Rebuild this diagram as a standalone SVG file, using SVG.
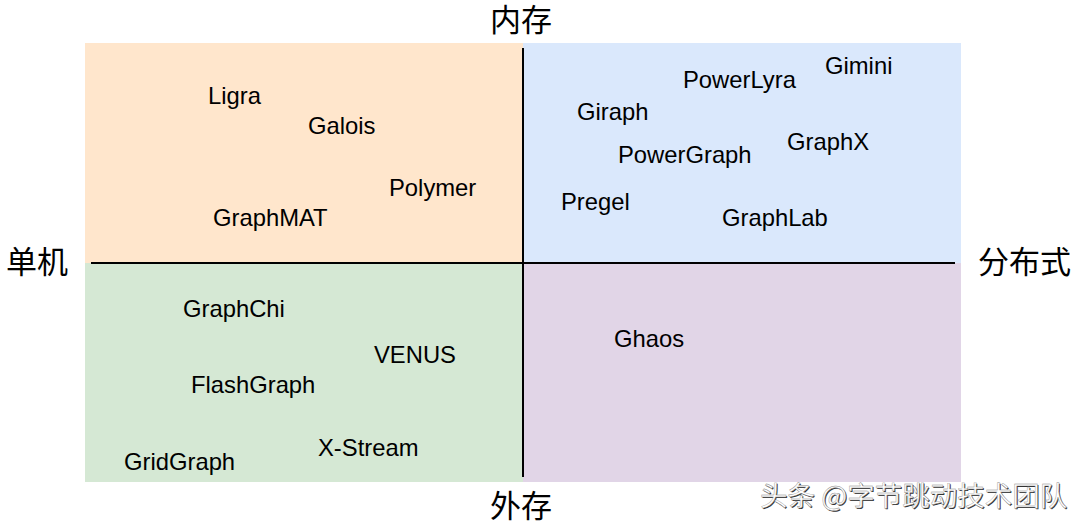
<svg xmlns="http://www.w3.org/2000/svg" width="1084" height="528" viewBox="0 0 1084 528">
<style>
.lbl{font-family:"Liberation Sans",Arial,Helvetica,sans-serif;font-size:23.8px;fill:#000}
.cjk{font-family:"Noto Sans CJK SC","Noto Sans CJK TC",sans-serif;font-size:31px;fill:#000}
.wm{font-family:"Noto Sans CJK SC",sans-serif;font-size:27.5px}
.axis{stroke:#000;stroke-width:2;fill:none}
</style>
<rect width="1084" height="528" fill="#fff"/>
<g id="q-single-memory"><rect x="85" y="43" width="438" height="220" fill="#FFE6CC"/></g>
<g id="q-dist-memory"><rect x="523" y="43" width="438" height="220" fill="#DAE8FC"/></g>
<g id="q-single-disk"><rect x="85" y="263" width="438" height="219" fill="#D5E8D4"/></g>
<g id="q-dist-disk"><rect x="523" y="263" width="438" height="219" fill="#E1D5E7"/></g>
<g id="connectors">
<line class="axis" x1="523" y1="48" x2="523" y2="477"/>
<line class="axis" x1="91" y1="263" x2="955" y2="263"/>
</g>
<g id="axis-labels">
<text class="cjk" x="490" y="31">内存</text>
<text class="cjk" x="490" y="517">外存</text>
<text class="cjk" x="6" y="273">单机</text>
<text class="cjk" x="978" y="273">分布式</text>
</g>
<g id="n-ligra"><text class="lbl" x="208" y="104">Ligra</text></g>
<g id="n-galois"><text class="lbl" x="308" y="134">Galois</text></g>
<g id="n-polymer"><text class="lbl" x="389" y="196">Polymer</text></g>
<g id="n-graphmat"><text class="lbl" x="213" y="226">GraphMAT</text></g>
<g id="n-gimini"><text class="lbl" x="825" y="74">Gimini</text></g>
<g id="n-powerlyra"><text class="lbl" x="683" y="88">PowerLyra</text></g>
<g id="n-giraph"><text class="lbl" x="577" y="120">Giraph</text></g>
<g id="n-graphx"><text class="lbl" x="787" y="150">GraphX</text></g>
<g id="n-powergraph"><text class="lbl" x="618" y="163">PowerGraph</text></g>
<g id="n-pregel"><text class="lbl" x="561" y="210">Pregel</text></g>
<g id="n-graphlab"><text class="lbl" x="722" y="226">GraphLab</text></g>
<g id="n-graphchi"><text class="lbl" x="183" y="317">GraphChi</text></g>
<g id="n-venus"><text class="lbl" x="374" y="363">VENUS</text></g>
<g id="n-flashgraph"><text class="lbl" x="191" y="393">FlashGraph</text></g>
<g id="n-xstream"><text class="lbl" x="318" y="456">X-Stream</text></g>
<g id="n-gridgraph"><text class="lbl" x="124" y="470">GridGraph</text></g>
<g id="n-ghaos"><text class="lbl" x="614" y="347">Ghaos</text></g>
<g id="watermark">
<text class="wm" x="761" y="507" fill="#333">头条 @字节跳动技术团队</text>
<text class="wm" x="760" y="506" fill="#fff" stroke="#888" stroke-width="0.4">头条 @字节跳动技术团队</text>
</g>
</svg>
